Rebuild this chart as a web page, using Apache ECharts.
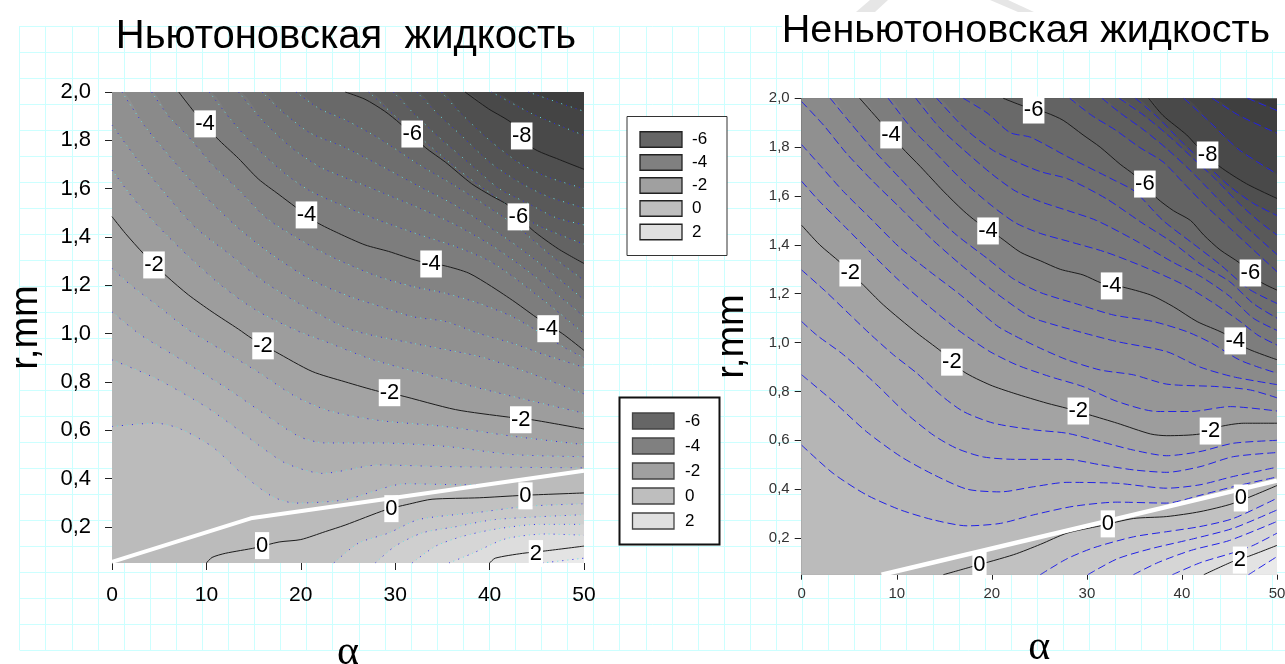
<!DOCTYPE html>
<html><head><meta charset="utf-8">
<style>html,body{margin:0;padding:0;background:#fff}#c{width:1285px;height:664px}</style>
<script src="https://cdn.jsdelivr.net/npm/echarts@6/dist/echarts.min.js"></script>
</head><body><div id="c"></div>
<script>
// ---------- Ньютоновская: contour lines [alpha, r] ----------
const n_m88=[[44.1,2],[47,1.96],[50,1.92]];
const n_m84=[[40.2,2],[44.5,1.91],[50,1.82]];
const n_m80=[[37.4,2],[39.9,1.93],[42.4,1.87],[44.5,1.77],[47.4,1.72],[50,1.68]];
const n_m76=[[34.9,2],[37,1.91],[40,1.8],[43,1.71],[46,1.65],[50,1.6]];
const n_m72=[[32.3,2],[34.5,1.91],[37,1.82],[40,1.71],[43,1.63],[46,1.57],[50,1.52]];
const n_m68=[[29.8,2],[32,1.91],[35,1.8],[38,1.7],[41,1.6],[44,1.54],[47,1.48],[50,1.45]];
const n_m64=[[27.2,2],[30,1.9],[33,1.8],[36,1.7],[39,1.61],[42,1.53],[45,1.45],[50,1.37]];
const n_m60=[[24.7,2],[26.8,1.97],[28.9,1.92],[30.5,1.87],[33.2,1.77],[35.3,1.71],[38.1,1.62],[40.2,1.57],[42,1.53],[44.5,1.43],[47.3,1.35],[50,1.29]];
const n_m56=[[19.5,2],[22,1.93],[24.7,1.885],[28.2,1.81],[32.5,1.7],[36.4,1.61],[40,1.52],[43,1.44],[46.6,1.32],[50,1.22]];
const n_m52=[[15.9,2],[18,1.92],[21,1.83],[24.7,1.77],[28.2,1.7],[32.5,1.61],[36.4,1.53],[40,1.44],[43,1.36],[46.6,1.25],[50,1.14]];
const n_m48=[[13.4,2],[16,1.88],[19,1.77],[22,1.69],[24.7,1.645],[28.2,1.59],[32.5,1.52],[36.4,1.45],[40,1.37],[43,1.29],[46.6,1.18],[50,1.07]];
const n_m44=[[10.3,2],[12.5,1.89],[15,1.78],[18.4,1.66],[21,1.59],[24.7,1.525],[28.2,1.47],[32.5,1.41],[36.4,1.36],[40,1.3],[43,1.22],[46.6,1.11],[50,1]];
const n_m40=[[7.07,2],[8.66,1.92],[11.1,1.81],[13.4,1.725],[15.5,1.64],[17.7,1.575],[19.4,1.525],[21.7,1.46],[24,1.415],[26.8,1.367],[29.3,1.34],[32.5,1.3],[35.3,1.28],[37.8,1.25],[40.2,1.195],[42.7,1.13],[45.2,1.06],[47.7,1],[50,0.93]];
const n_m36=[[4.2,2],[6,1.9],[8.1,1.815],[10.6,1.7],[13.4,1.595],[16.3,1.48],[19.4,1.4],[22.6,1.33],[25.4,1.28],[28.2,1.236],[31.8,1.195],[35.3,1.167],[38.8,1.126],[42.4,1.07],[45.5,1],[48,0.94],[50,0.9]];
const n_m32=[[1.06,2],[3.5,1.857],[6.4,1.72],[9.9,1.567],[13.4,1.436],[17,1.325],[21.2,1.22],[25.4,1.15],[28.2,1.115],[31.8,1.07],[35.3,1.05],[38.9,1],[42.4,0.96],[46,0.91],[50,0.86]];
const n_m28=[[0,1.863],[2.5,1.73],[5.3,1.595],[8.8,1.44],[12.4,1.33],[15.9,1.22],[19.8,1.125],[25.4,1.015],[31.8,0.96],[38.9,0.905],[44,0.84],[50,0.75]];
const n_m24=[[0,1.677],[2.1,1.567],[4.9,1.443],[8.5,1.305],[11.7,1.195],[15.2,1.098],[19.4,1.015],[22.6,0.967],[27.6,0.892],[35.3,0.81],[42.4,0.74],[50,0.67]];
const n_m20=[[0,1.484],[1.41,1.415],[3.36,1.33],[5.83,1.236],[8.1,1.16],[10.6,1.09],[13.4,1.018],[14.8,0.98],[17.3,0.925],[21.2,0.843],[24.7,0.8],[28.3,0.76],[30.4,0.745],[36.4,0.685],[42,0.654],[44.5,0.643],[50,0.605]];
const n_m16=[[0,1.27],[2,1.2],[5,1.11],[8.1,1.015],[11.7,0.93],[15.5,0.84],[19.4,0.74],[23,0.68],[28.3,0.64],[35.3,0.615],[42.4,0.575],[50,0.54]];
const n_m12=[[0,1.09],[3,0.995],[7.07,0.898],[12.4,0.767],[15.5,0.684],[19.8,0.574],[22.6,0.547],[28.3,0.547],[35.3,0.533],[42.4,0.499],[50,0.49]];
const n_m08=[[0,0.891],[4.6,0.815],[9.9,0.698],[13.4,0.601],[15.5,0.539],[18.4,0.463],[22.3,0.421],[28.3,0.456],[35.3,0.449],[50,0.444]];
const n_m04=[[0,0.615],[4.6,0.629],[7.07,0.608],[10.6,0.532],[14.1,0.408],[17,0.325],[19.4,0.298],[24.7,0.312],[31.1,0.378],[37.1,0.374],[38.9,0.375],[44,0.4],[50,0.425]];
const n_p00=[[10,0.05],[10.6,0.073],[12,0.09],[15.2,0.113],[17.7,0.137],[20,0.147],[22.6,0.18],[24.7,0.207],[29,0.27],[31.8,0.297],[33.9,0.314],[38.9,0.32],[43.5,0.33],[50,0.34]];
const n_p04=[[23.5,0.05],[26.1,0.132],[29.3,0.174],[32.5,0.23],[38.9,0.26],[44,0.285],[50,0.295]];
const n_p08=[[27.9,0.05],[30,0.12],[32.9,0.175],[36.4,0.2],[40.6,0.23],[50,0.25]];
const n_p12=[[31.8,0.05],[34.3,0.12],[37.1,0.16],[40.6,0.19],[45.2,0.21],[50,0.21]];
const n_p16=[[35.7,0.05],[38.2,0.09],[41.7,0.15],[45.9,0.17],[50,0.165]];
const n_p20=[[40,0.05],[40.6,0.07],[43.5,0.09],[45.9,0.1],[50,0.12]];
const n_p24=[[45.6,0.05],[50,0.07]];
const n_levels=[-8.8,-8.4,-8,-7.6,-7.2,-6.8,-6.4,-6,-5.6,-5.2,-4.8,-4.4,-4,-3.6,-3.2,-2.8,-2.4,-2,-1.6,-1.2,-0.8,-0.4,0,0.4,0.8,1.2,1.6,2,2.4];
const n_lines=[n_m88,n_m84,n_m80,n_m76,n_m72,n_m68,n_m64,n_m60,n_m56,n_m52,n_m48,n_m44,n_m40,n_m36,n_m32,n_m28,n_m24,n_m20,n_m16,n_m12,n_m08,n_m04,n_p00,n_p04,n_p08,n_p12,n_p16,n_p20,n_p24];
const n_white=[[0,0.055],[14.7,0.235],[50,0.432]];
const n_labels=[[9.86,1.868,'-4'],[31.8,1.826,'-6'],[43.4,1.818,'-8'],[43.05,1.483,'-6'],[20.6,1.491,'-4'],[33.8,1.288,'-4'],[46.2,1.02,'-4'],[4.45,1.284,'-2'],[16,0.949,'-2'],[29.4,0.755,'-2'],[43.3,0.643,'-2'],[15.9,0.122,'0'],[29.6,0.275,'0'],[43.8,0.328,'0'],[44.9,0.089,'2']];

// ---------- Неньютоновская: contour lines [alpha, r] ----------
const p_m92=[[46.9,2],[50,1.95]];
const p_m88=[[43.2,2],[46,1.93],[50,1.857]];
const p_m84=[[40.2,2],[43,1.9],[46,1.79],[50,1.69]];
const p_m80=[[36.5,2],[38,1.93],[40.5,1.85],[41.7,1.8],[44,1.72],[46.8,1.65],[50,1.59]];
const p_m76=[[35.1,2],[37.5,1.92],[40,1.82],[42.5,1.73],[45,1.64],[47.5,1.57],[50,1.52]];
const p_m72=[[33.4,2],[36,1.93],[38.5,1.85],[41,1.76],[43.5,1.67],[46,1.57],[48,1.5],[50,1.44]];
const p_m68=[[31.6,2],[33.5,1.94],[36,1.87],[38.5,1.79],[41,1.7],[43.5,1.6],[46,1.5],[48,1.43],[50,1.36]];
const p_m64=[[28.2,2],[30.5,1.93],[33,1.87],[35.5,1.8],[38,1.74],[40,1.66],[42.5,1.56],[45,1.47],[47.5,1.38],[50,1.29]];
const p_m60=[[21.2,2],[23.2,1.97],[25.8,1.94],[27.5,1.91],[29.6,1.85],[31.4,1.8],[33.5,1.73],[35,1.686],[37.4,1.59],[39.1,1.54],[40.9,1.5],[42.3,1.44],[44,1.38],[46.1,1.325],[48.2,1.25],[50,1.215]];
const p_m56=[[17,2],[19.5,1.94],[21.9,1.86],[24.1,1.84],[28,1.76],[32.8,1.666],[35,1.62],[38,1.5],[41,1.41],[44,1.32],[47,1.22],[50,1.16]];
const p_m52=[[14.2,2],[17.2,1.875],[20,1.79],[22,1.75],[25.1,1.7],[28,1.67],[32,1.59],[35.8,1.49],[39,1.41],[42,1.32],[45,1.25],[47.5,1.16],[50,1.1]];
const p_m48=[[12,2],[14.5,1.88],[17,1.79],[20,1.69],[22.5,1.62],[25.1,1.577],[28,1.54],[31,1.5],[35,1.42],[39,1.33],[42,1.27],[45,1.19],[47.5,1.1],[50,1.05]];
const p_m44=[[9.1,2],[11.5,1.88],[14,1.78],[17,1.66],[20,1.56],[22.5,1.49],[25.1,1.447],[28,1.415],[32,1.37],[36,1.31],[40,1.24],[43,1.17],[46,1.09],[48,1.03],[50,0.99]];
const p_m40=[[6.1,2],[8.25,1.905],[10.5,1.8],[12.5,1.72],[14.9,1.62],[17,1.54],[18.4,1.495],[20.9,1.43],[23,1.37],[25.1,1.335],[27.2,1.3],[29.6,1.277],[31.6,1.243],[33.5,1.23],[36.7,1.195],[39.1,1.147],[41.6,1.086],[44.4,1.038],[46.8,0.977],[50,0.93]];
const p_m36=[[3,2],[5.1,1.9],[7.5,1.79],[10.4,1.67],[13.5,1.54],[16.3,1.44],[19.5,1.345],[22.3,1.26],[25.1,1.205],[29.3,1.154],[32.8,1.113],[37,1.086],[40.5,1.045],[43,1],[46,0.93],[48,0.9],[50,0.875]];
const p_m32=[[0,1.986],[2.3,1.89],[4.7,1.775],[7.5,1.66],[10.4,1.55],[13.5,1.43],[16.7,1.32],[20.2,1.21],[23.7,1.113],[25.1,1.09],[29.6,1.04],[33.2,1.004],[38.4,0.963],[41.9,0.9],[45.4,0.86],[50,0.828]];
const p_m28=[[0,1.81],[1.9,1.727],[4.4,1.618],[7.2,1.51],[10.4,1.386],[13.5,1.29],[16.7,1.195],[20.5,1.07],[22.3,1.03],[25.1,0.977],[27.9,0.93],[31.4,0.888],[34.9,0.868],[38.4,0.83],[43.7,0.82],[47.2,0.806],[50,0.774]];
const p_m24=[[0,1.66],[1.9,1.577],[4.4,1.48],[7.2,1.37],[10,1.263],[13.2,1.154],[16,1.065],[17.4,1.025],[19.8,0.963],[22.6,0.909],[26.1,0.861],[29.6,0.82],[33.2,0.759],[37.4,0.718],[40.9,0.718],[45.1,0.738],[50,0.72]];
const p_m20=[[0,1.48],[1.9,1.4],[4,1.33],[6.3,1.243],[8.6,1.154],[12.1,1.04],[14.7,0.963],[17,0.882],[19.8,0.827],[22.3,0.793],[25.8,0.752],[27.9,0.731],[30.3,0.704],[33.2,0.67],[36.7,0.626],[38.4,0.619],[41.9,0.626],[44,0.656],[46.5,0.67],[50,0.67]];
const p_m16=[[0,1.297],[2.5,1.21],[5.1,1.113],[7.2,1.035],[9.65,0.95],[12.1,0.875],[14.6,0.786],[17,0.718],[20.2,0.67],[24.4,0.643],[27.9,0.629],[31.4,0.595],[34.9,0.56],[38.4,0.537],[41.9,0.554],[45.4,0.588],[50,0.6]];
const p_m12=[[0,1.086],[1.6,1.03],[4.4,0.95],[7.9,0.827],[11,0.71],[13.9,0.62],[16.3,0.567],[19.1,0.532],[22.6,0.522],[27.9,0.522],[31.4,0.5],[34.9,0.479],[38.4,0.469],[41.9,0.492],[45.4,0.533],[50,0.55]];
const p_m08=[[0,0.868],[3.3,0.76],[6.8,0.636],[10.4,0.534],[13.9,0.459],[17.4,0.4],[20.9,0.389],[24.4,0.41],[27.9,0.428],[33.2,0.424],[38.4,0.404],[41.9,0.418],[45.4,0.452],[50,0.49]];
const p_m04=[[0,0.58],[3.3,0.465],[6.8,0.377],[10.4,0.315],[13.9,0.274],[17.4,0.25],[20.9,0.26],[24.4,0.295],[28.6,0.33],[33.2,0.347],[38.4,0.343],[41.9,0.375],[45.4,0.41],[50,0.45]];
const p_p00=[[14.9,0.05],[18.1,0.085],[22.3,0.132],[25.1,0.174],[27.9,0.22],[31.4,0.25],[34.9,0.28],[38.4,0.288],[41.9,0.308],[45.4,0.342],[50,0.415]];
const p_p04=[[25.1,0.05],[27.9,0.115],[30.7,0.16],[34.9,0.205],[38.4,0.226],[41.9,0.247],[45.4,0.28],[50,0.363]];
const p_p08=[[30.1,0.05],[33.2,0.115],[36.7,0.156],[41.2,0.197],[45.4,0.24],[50,0.315]];
const p_p12=[[34.9,0.05],[37.5,0.1],[41,0.15],[45,0.19],[50,0.268]];
const p_p16=[[39,0.05],[42,0.1],[45.4,0.14],[47.5,0.17],[50,0.22]];
const p_p20=[[42.3,0.05],[45.4,0.105],[47,0.125],[50,0.17]];
const p_p24=[[47,0.05],[50,0.124]];
const p_levels=[-9.2,-8.8,-8.4,-8,-7.6,-7.2,-6.8,-6.4,-6,-5.6,-5.2,-4.8,-4.4,-4,-3.6,-3.2,-2.8,-2.4,-2,-1.6,-1.2,-0.8,-0.4,0,0.4,0.8,1.2,1.6,2,2.4];
const p_lines=[p_m92,p_m88,p_m84,p_m80,p_m76,p_m72,p_m68,p_m64,p_m60,p_m56,p_m52,p_m48,p_m44,p_m40,p_m36,p_m32,p_m28,p_m24,p_m20,p_m16,p_m12,p_m08,p_m04,p_p00,p_p04,p_p08,p_p12,p_p16,p_p20,p_p24];
const p_white=[[8.4,0.05],[50,0.435]];
const p_labels=[[24.4,1.952,'-6'],[9.4,1.85,'-4'],[42.7,1.768,'-8'],[36.1,1.649,'-6'],[19.6,1.457,'-4'],[32.6,1.232,'-4'],[47.2,1.285,'-6'],[5.1,1.285,'-2'],[45.6,1.007,'-4'],[15.8,0.92,'-2'],[29.1,0.72,'-2'],[43,0.638,'-2'],[46.2,0.364,'0'],[32.2,0.258,'0'],[18.7,0.09,'0'],[46.1,0.11,'2']];

// ---------- axes and legends ----------
const yTicks=[0.2,0.4,0.6,0.8,1.0,1.2,1.4,1.6,1.8,2.0];
const legendValues=['-6','-4','-2','0','2'];
const legendColors=['#666666','#808080','#a0a0a0','#bebebe','#e0e0e0'];
const titleNewton='Ньютоновская  жидкость';
const titleNon='Неньютоновская жидкость';

const FONT='"Liberation Sans",Arial,sans-serif';
function gray(v){
  const k=[[-6,102],[-4,128],[-2,160],[0,190],[2,224]];
  let g;
  if(v<=-6) g=102+13*(v+6);
  else if(v>=2) g=224+17*(v-2);
  else for(let i=0;i<4;i++) if(v>=k[i][0]&&v<=k[i+1][0]) g=k[i][1]+(k[i+1][1]-k[i][1])*(v-k[i][0])/2;
  g=Math.round(g); return 'rgb('+g+','+g+','+g+')';
}
const series=[];
function addPlot(levels,lines,white,labels,idx,strokes,whiteW){
  const base={type:'line',xAxisIndex:idx,yAxisIndex:idx,symbol:'none',silent:true,smooth:0.25,clip:true,animation:false};
  lines.forEach((pts,i)=>{
    const d=(pts[0][1]>=2&&pts[0][0]>0)?[[0,2]].concat(pts):pts;
    series.push(Object.assign({},base,{data:d,z:2,lineStyle:{width:0,opacity:0},areaStyle:{color:gray(levels[i]+0.2),opacity:1,origin:'start'}}));
  });
  lines.forEach((pts,i)=>{
    const solid=Math.abs(levels[i]%2)<1e-6;
    const st=solid?[{color:'#1c1c1c',width:1,type:'solid'}]:strokes;
    st.forEach(s=>series.push(Object.assign({},base,{data:pts,z:3,lineStyle:s})));
  });
  series.push(Object.assign({},base,{data:white,z:4,smooth:false,lineStyle:{color:'#fff',width:whiteW}}));
  series.push({type:'scatter',xAxisIndex:idx,yAxisIndex:idx,data:labels,symbolSize:1,silent:true,z:5,animation:false,
    itemStyle:{color:'rgba(0,0,0,0)',opacity:1},
    label:{show:true,position:'inside',opacity:1,formatter:p=>p.value[2],fontFamily:FONT,fontSize:22,color:'#000',backgroundColor:'#fff',padding:[4,1,1,1]}});
}
addPlot(n_levels,n_lines,n_white,n_labels,0,[
  {color:'#2a2af0',width:1,type:[1,9],dashOffset:0},
  {color:'#66e0e8',width:1,type:[1,9],dashOffset:5}],4);
addPlot(p_levels,p_lines,p_white,p_labels,1,[
  {color:'#2222e6',width:1,type:[8,4]}],4.5);

const fmt=v=>Number(v).toFixed(1).replace('.',',');
function xAx(idx,fs,color,nameGap,tickLen,margin){
  return {type:'value',gridIndex:idx,min:0,max:50,interval:10,
    splitLine:{show:false},axisLine:{show:true,onZero:false,lineStyle:{color:'rgba(0,0,0,0)'}},
    axisTick:{show:true,length:tickLen,lineStyle:{color:'#222'}},
    axisLabel:{fontFamily:FONT,fontSize:fs,color:color,margin:margin},
    name:'α',nameLocation:'middle',nameGap:nameGap,
    nameTextStyle:{fontFamily:'"Liberation Serif",serif',fontSize:42,color:'#000'}};
}
function yAx(idx,fs,color,nameGap,tickLen,margin){
  return {type:'value',gridIndex:idx,min:0.05,max:2,
    splitLine:{show:false},axisLine:{show:true,onZero:false,lineStyle:{color:'rgba(0,0,0,0)'}},
    axisTick:{show:true,length:tickLen,customValues:yTicks,lineStyle:{color:'#222'}},
    axisLabel:{fontFamily:FONT,fontSize:fs,color:color,margin:margin,customValues:yTicks,formatter:fmt,showMinLabel:true,showMaxLabel:true},
    name:'r,mm',nameLocation:'middle',nameGap:nameGap,nameRotate:90,
    nameTextStyle:{fontFamily:FONT,fontSize:38,color:'#000'}};
}
// squared-paper background
const paperX={type:'value',gridIndex:2,min:0,max:48.5,interval:1,axisLine:{show:false},axisTick:{show:false},axisLabel:{show:false},
  splitLine:{show:true,lineStyle:{color:'#ccffff',width:1}}};
const paperY={type:'value',gridIndex:2,min:0,max:24,interval:1,axisLine:{show:false},axisTick:{show:false},axisLabel:{show:false},
  splitLine:{show:true,lineStyle:{color:'#ccffff',width:1}}};

function legendBox(x,y,w,h,bw,bc,sx,sw,sh,rows,tx,fs,sc){
  const out=[{type:'rect',z:10,shape:{x:x,y:y,width:w,height:h},style:{fill:'#fff',stroke:bc,lineWidth:bw}}];
  legendValues.forEach((t,i)=>{
    out.push({type:'rect',z:11,shape:{x:sx,y:rows[i]-sh/2,width:sw,height:sh},style:{fill:legendColors[i],stroke:sc,lineWidth:1.3}});
    out.push({type:'text',z:11,style:{x:tx,y:rows[i],text:t,font:fs+'px '+FONT,fill:'#000',textVerticalAlign:'middle'}});
  });
  return out;
}
const gfx=[
  {type:'polygon',z:1,shape:{points:[[870,0],[888,0],[875,12],[856,12]]},style:{fill:'#e6e6e6'}},
  {type:'polygon',z:1,shape:{points:[[990,0],[1008,0],[1034,12],[1018,12]]},style:{fill:'#e6e6e6'}},
  {type:'rect',z:1,shape:{x:782,y:12,width:503,height:38},style:{fill:'#fff'}},
  {type:'text',z:12,style:{x:346,y:37,text:titleNewton,font:'40px '+FONT,fill:'#000',textAlign:'center',textVerticalAlign:'middle'}},
  {type:'text',z:12,style:{x:1026,y:31,text:titleNon,font:'39.6px '+FONT,fill:'#000',textAlign:'center',textVerticalAlign:'middle'}}
].concat(
  legendBox(627,116.5,100,139,1,'#333',640,42,15.5,[139.5,162.5,185.5,208.5,232],692,17,'#222'),
  legendBox(619.5,397.5,100,147,2,'#111',632.5,41.5,16,[421,446,471,496,521],685,17,'#444')
);

const chart=echarts.init(document.getElementById('c'),null,{renderer:'canvas'});
chart.setOption({
  animation:false,backgroundColor:'#fff',
  grid:[
    {left:112,top:92,width:472,height:471,show:true,backgroundColor:gray(-9.1),borderWidth:0,z:1,outerBoundsMode:'none'},
    {left:801.7,top:98.3,width:475.3,height:476.4,show:true,backgroundColor:gray(-9.5),borderWidth:0,z:1,outerBoundsMode:'none'},
    {left:19.6,top:26,right:0,height:624,z:0,outerBoundsMode:'none'}
  ],
  xAxis:[xAx(0,21,'#000',69,7,22),xAx(1,15,'#333',52,5,12),paperX],
  yAxis:[yAx(0,22,'#000',66,7,21),yAx(1,15,'#333',50,7,12),paperY],
  series:series,
  graphic:gfx
});
</script></body></html>
